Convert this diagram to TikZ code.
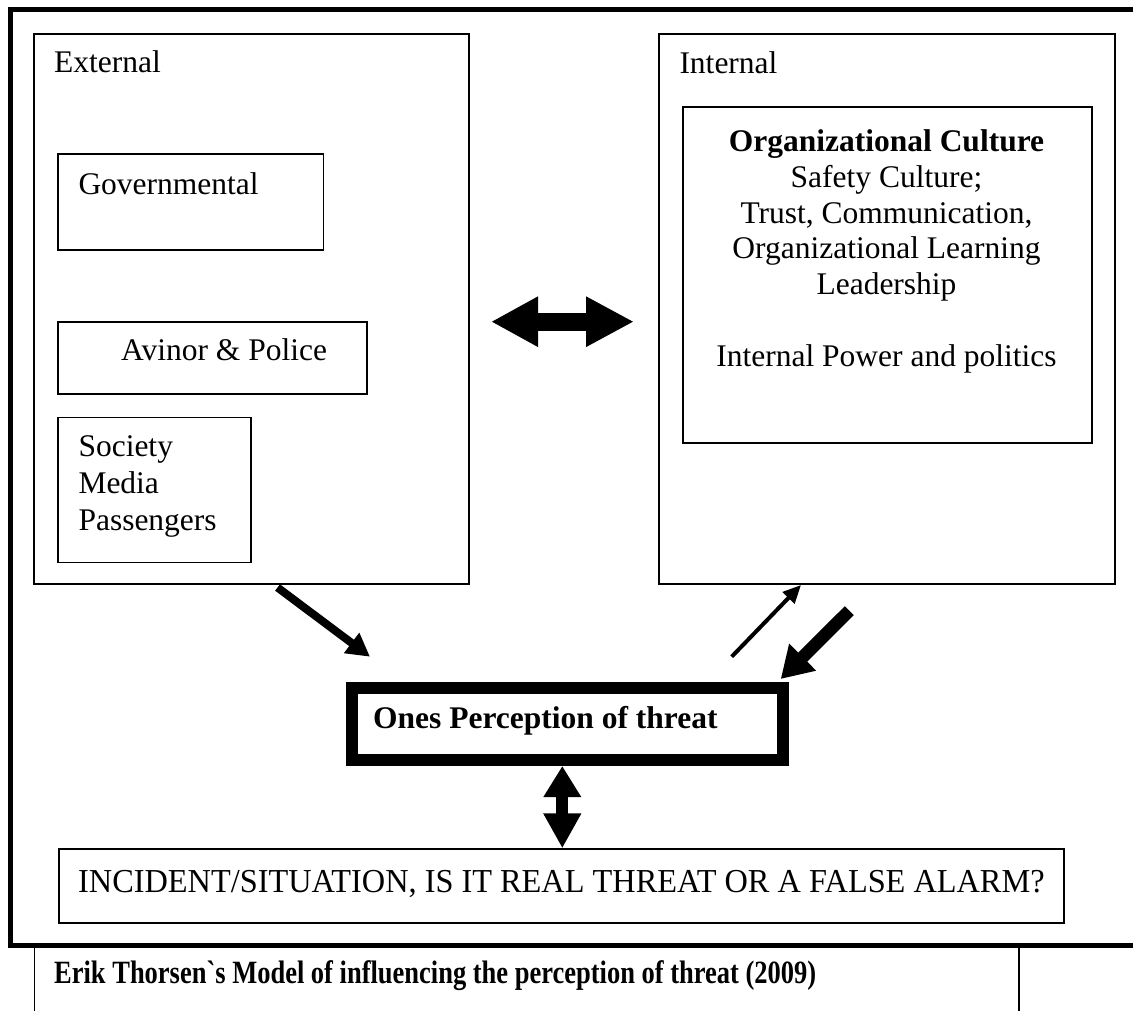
\documentclass[tikz,border=0pt]{standalone}
\usepackage{fontspec}
\setmainfont{Liberation Serif}
\usetikzlibrary{arrows.meta}

\begin{document}
\begin{tikzpicture}[x=1pt,y=-1pt,
  frame/.style={draw, line width=1.6pt, inner sep=0pt, anchor=north west},
  txt/.style={inner sep=0pt, font=\fontsize{31.5}{36}\selectfont},
  btxt/.style={inner sep=0pt, font=\fontsize{31.5}{36}\selectfont\bfseries},
  fat/.style={line width=#1}]

\clip (0,0) rectangle (1133,1011);
\fill[white] (0,0) rectangle (1133,1011);

% caption box below the frame
\node[frame, minimum width=984.5pt, minimum height=120pt] (capbox) at (33.5,945.5) {};
\node[inner sep=0pt, anchor=base west, font=\fontsize{32.5}{37}\selectfont\bfseries] (caption) at (54,983)
  {\scalebox{0.815}[1]{Erik Thorsen\textasciigrave s Model of influencing the perception of threat (2009)}};

% outer frame (open to the right)
\draw[line width=5.5pt] (1150,9.5) -| (10.5,945.5) -- (1150,945.5);

% external factors
\node[frame, minimum width=434.7pt, minimum height=550pt] (ext) at (33.3,33) {};
\node[txt, anchor=base west] (extlbl) at (54,72.5) {External};

\node[frame, minimum width=265.4pt, minimum height=95.7pt] (gov) at (57.3,153.3) {};
\node[txt, anchor=base west] (govlbl) at (78.3,194.3) {Governmental};

\node[frame, minimum width=308.7pt, minimum height=72pt] (avi) at (57.3,321.3) {};
\node[txt, anchor=base west] (avilbl) at (121,360.7) {Avinor \& Police};

\node[frame, minimum width=192.7pt, minimum height=145pt] (soc) at (57.3,416.7) {};
\node[txt, anchor=base west] (soc1) at (78.3,456.7) {Society};
\node[txt, anchor=base west] (soc2) at (78.3,493.3) {Media};
\node[txt, anchor=base west] (soc3) at (78.3,530) {Passengers};

% internal factors
\node[frame, minimum width=455.7pt, minimum height=550pt] (int) at (658.3,33.3) {};
\node[txt, anchor=base west] (intlbl) at (679.3,73.3) {Internal};

\node[frame, minimum width=408.7pt, minimum height=336pt] (org) at (682.3,106) {};
\node[btxt, anchor=base] (org1) at (886.5,151.5) {Organizational Culture};
\node[txt, anchor=base] (org2) at (886.5,187.3) {Safety Culture;};
\node[txt, anchor=base] (org3) at (886.5,223.1) {Trust, Communication,};
\node[txt, anchor=base] (org4) at (886.5,258.9) {Organizational Learning};
\node[txt, anchor=base] (org5) at (886.5,294.7) {Leadership};
\node[txt, anchor=base] (org6) at (886.5,366.3) {Internal Power and politics};

% perception of threat
\node[draw, line width=12pt, inner sep=0pt, anchor=north west,
      minimum width=431pt, minimum height=72pt] (per) at (346,682) {};
\node[btxt, anchor=base west] (perlbl) at (373,728) {Ones Perception of threat};

% incident
\node[frame, minimum width=1005pt, minimum height=74pt] (inc) at (58,848.3) {};
\node[inner sep=0pt, anchor=base west, font=\fontsize{33.5}{38}\selectfont] (inclbl) at (78,892)
  {\scalebox{0.965}[1]{INCIDENT/SITUATION, IS IT REAL THREAT OR A FALSE ALARM?}};

% arrow end points
\coordinate (hL) at (491,321.7);
\coordinate (hR) at (634,321.7);
\coordinate (eS) at (277.5,587.5);
\coordinate (eT) at (370,656.7);
\coordinate (uS) at (731.7,656.7);
\coordinate (uT) at (801,585);
\coordinate (dS) at (849.3,610.7);
\coordinate (dT) at (780.7,679);

% arrows
\draw[fat=17.7pt, {Triangle[length=47pt,width=47pt]}-{Triangle[length=48pt,width=47pt]}] (hL) -- (hR);
\draw[fat=8pt, -{Triangle[length=23pt,width=24pt]}] (eS) -- (eT);
\draw[fat=4pt, -{Triangle[length=18pt,width=16pt]}] (uS) -- (uT);
\draw[fat=12.7pt, -{Triangle[length=31pt,width=36pt]}] (dS) -- (dT);
\draw[fat=11.7pt, {Triangle[length=31pt,width=35.6pt]}-{Triangle[length=35pt,width=35.6pt]}]
  (per.south -| 562.3,0) -- (inc.north -| 562.3,0);

\end{tikzpicture}
\end{document}
